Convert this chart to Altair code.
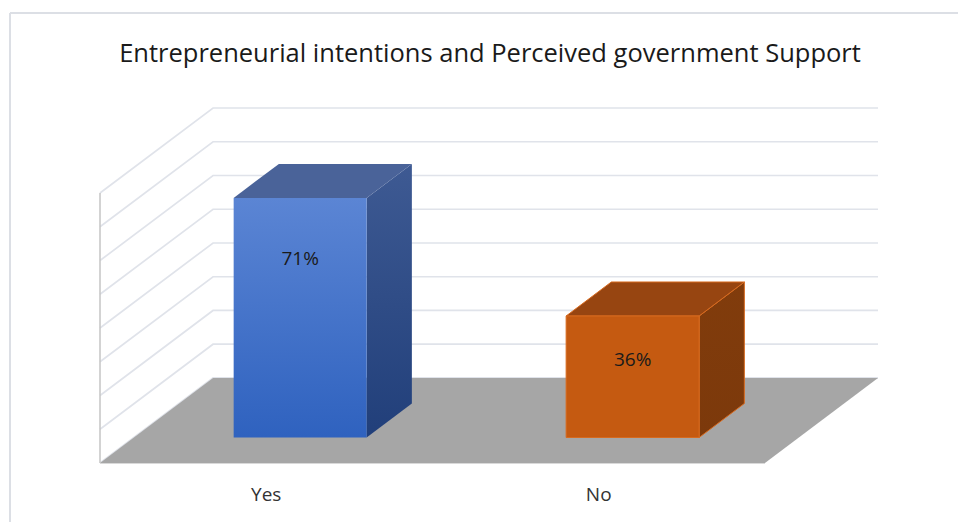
import altair as alt
import pandas as pd

# ---- data ----
categories = ["Yes", "No"]
values = [71, 36]
value_labels = ["71%", "36%"]
grid_values = [0, 10, 20, 30, 40, 50, 60, 70, 80]
title_text = "Entrepreneurial intentions and Perceived government Support"

# ---- 3D projection style (depth expressed in data units) ----
DX = 0.34      # horizontal shift for full depth, in category units
DY = 25.2      # vertical shift for full depth, in percent units
ZF, ZB = 0.3, 0.7   # bar front / back depth
BL, BR = 0.3, 0.7   # bar left / right inside its category
LABEL_FRAC = 0.85

styles = {
    "Yes": dict(front=["#5b85d4", "#2f62bf"], top="#4a6399",
                side=["#3e5a93", "#213f7a"], stroke=None),
    "No": dict(front=["#c55a11", "#c55a11"], top="#974511",
               side=["#813c0c", "#7c390b"], stroke="#d86a1e"),
}

XS = alt.Scale(domain=[0, 2 + DX], nice=False, zero=False)
YS = alt.Scale(domain=[0, 80 + DY], nice=False, zero=False)


def grad(c):
    return alt.Gradient(gradient="linear", x1=0, x2=0, y1=0, y2=1,
                        stops=[alt.GradientStop(color=c[0], offset=0),
                               alt.GradientStop(color=c[1], offset=1)])


# gridlines: left wall diagonal + back wall horizontal
grid_rows = []
for g in grid_values:
    grid_rows += [dict(g=g, o=0, x=0.0, y=g),
                  dict(g=g, o=1, x=DX, y=g + DY),
                  dict(g=g, o=2, x=len(categories) + DX, y=g + DY)]
grid = alt.Chart(pd.DataFrame(grid_rows)).mark_line(
    color="#e0e3ea", strokeWidth=1.7).encode(
    x=alt.X("x:Q", scale=XS, axis=None),
    y=alt.Y("y:Q", scale=YS, axis=None),
    detail="g:N", order="o:Q")

wall_edge = alt.Chart(pd.DataFrame([dict(x=0.0, y=0, y2=grid_values[-1])])).mark_rule(
    color="#c4c4c4", strokeWidth=1.5).encode(
    x=alt.X("x:Q", scale=XS), y=alt.Y("y:Q", scale=YS), y2="y2:Q")

front_edge = alt.Chart(pd.DataFrame([dict(x=0.0, x2=float(len(categories)), y=0)])).mark_rule(
    color="#d9d9d9", strokeWidth=2).encode(
    x=alt.X("x:Q", scale=XS), x2="x2:Q", y=alt.Y("y:Q", scale=YS))

floor_df = pd.DataFrame([
    dict(y=0.0, x=0.0, x2=float(len(categories))),
    dict(y=DY, x=DX, x2=len(categories) + DX),
])
floor = alt.Chart(floor_df).mark_area(orient="horizontal", color="#a6a6a6").encode(
    y=alt.Y("y:Q", scale=YS), x=alt.X("x:Q", scale=XS), x2="x2:Q")

layers = [grid, wall_edge, front_edge, floor]

for i, (cat, v) in enumerate(zip(categories, values)):
    s = styles[cat]
    sk = {} if s["stroke"] is None else dict(stroke=s["stroke"], strokeWidth=1)
    front_df = pd.DataFrame([dict(x=i + BL + DX * ZF, x2=i + BR + DX * ZF,
                                  y=DY * ZF, y2=v + DY * ZF)])
    top_df = pd.DataFrame([
        dict(y=v + DY * ZF, x=i + BL + DX * ZF, x2=i + BR + DX * ZF),
        dict(y=v + DY * ZB, x=i + BL + DX * ZB, x2=i + BR + DX * ZB),
    ])
    side_df = pd.DataFrame([
        dict(x=i + BR + DX * ZF, y=DY * ZF, y2=v + DY * ZF),
        dict(x=i + BR + DX * ZB, y=DY * ZB, y2=v + DY * ZB),
    ])
    side = alt.Chart(side_df).mark_area(orient="vertical", fill=grad(s["side"]), **sk).encode(
        x=alt.X("x:Q", scale=XS), y=alt.Y("y:Q", scale=YS), y2="y2:Q")
    top = alt.Chart(top_df).mark_area(orient="horizontal", fill=s["top"], **sk).encode(
        y=alt.Y("y:Q", scale=YS), x=alt.X("x:Q", scale=XS), x2="x2:Q")
    front = alt.Chart(front_df).mark_rect(fill=grad(s["front"]), **sk).encode(
        x=alt.X("x:Q", scale=XS), x2="x2:Q", y=alt.Y("y:Q", scale=YS), y2="y2:Q")
    layers += [side, top, front]

lab_df = pd.DataFrame(dict(
    x=[i + (BL + BR) / 2 + DX * ZF for i in range(len(categories))],
    y=[LABEL_FRAC * v for v in values],
    t=value_labels))
labels = alt.Chart(lab_df).mark_text(
    font="Open Sans", fontSize=19, color="#1a1a1a", baseline="middle").encode(
    x=alt.X("x:Q", scale=XS), y=alt.Y("y:Q", scale=YS), text="t:N")

cat_df = pd.DataFrame(dict(x=[i + 0.5 for i in range(len(categories))],
                           y=[0.0] * len(categories), t=categories))
cat_labels = alt.Chart(cat_df).mark_text(
    font="Open Sans", fontSize=19, color="#333333", baseline="middle", dy=32).encode(
    x=alt.X("x:Q", scale=XS), y=alt.Y("y:Q", scale=YS), text="t:N")

title = alt.Chart(pd.DataFrame([dict(t=title_text)])).mark_text(
    font="Open Sans", fontSize=25.5, color="#1a1a1a", baseline="alphabetic", align="center").encode(
    x=alt.value(390), y=alt.value(-46), text="t:N")

border = alt.Chart(pd.DataFrame([dict(k=1)])).mark_rule(color="#dcdfe5", strokeWidth=2).encode(
    x=alt.value(-90), x2=alt.value(870), y=alt.value(-95))
border_l = alt.Chart(pd.DataFrame([dict(k=1)])).mark_rule(color="#dcdfe5", strokeWidth=2).encode(
    x=alt.value(-90), y=alt.value(-95), y2=alt.value(420))

layers += [labels, cat_labels, title, border, border_l]

chart = alt.layer(*layers).properties(
    width=778, height=355,
    padding={"left": 100, "top": 108, "right": 80, "bottom": 59},
    autosize=alt.AutoSizeParams(type="none"),
).configure(background="white").configure_view(strokeWidth=0, stroke="transparent")

chart.save("out.html", embed_options={"renderer": "svg", "actions": False})
